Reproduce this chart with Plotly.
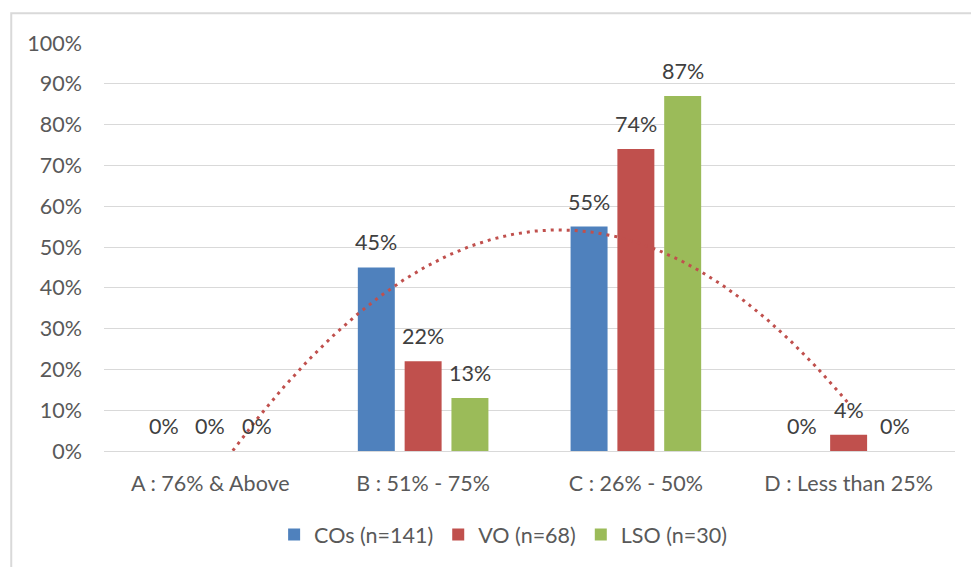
import numpy as np
import plotly.graph_objects as go

# Score bands and share of respondents in each band
categories = ["A : 76% & Above", "B : 51% - 75%", "C : 26% - 50%", "D : Less than 25%"]
series_names = ["COs (n=141)", "VO (n=68)", "LSO (n=30)"]
cos_values = [0.00, 0.45, 0.55, 0.00]
vo_values = [0.00, 0.22, 0.74, 0.04]
lso_values = [0.00, 0.13, 0.87, 0.00]
y_ticks = [0, 0.1, 0.2, 0.3, 0.4, 0.5, 0.6, 0.7, 0.8, 0.9, 1.0]

colors = ["#4F81BD", "#C0504D", "#9BBB59"]
FONT = "Lato, Carlito, 'Liberation Sans', sans-serif"
FS = 21.5
BAR_GAP = 0.34
GROUP_GAP = 0.21

x_pos = np.arange(len(categories))
all_series = [cos_values, vo_values, lso_values]

fig = go.Figure()
for name, vals, col in zip(series_names, all_series, colors):
    fig.add_trace(go.Bar(
        x=x_pos, y=vals, name=name,
        marker=dict(color=col, line=dict(width=0)),
        hoverinfo="x+y",
    ))

# Second-order polynomial trend of the VO series, clipped at the axis floor
coef = np.polyfit(x_pos + 1, vo_values, 2)
xt = np.linspace(0, len(categories) - 1, 400)
yt = np.polyval(coef, xt + 1)
keep = yt >= 0
fig.add_trace(go.Scatter(
    x=xt[keep], y=yt[keep], mode="lines", showlegend=False,
    line=dict(color="#C0504D", width=3, dash="3px,5px"),
    hoverinfo="skip",
))

# Value labels above each bar
slot = (1 - BAR_GAP) / len(all_series)
for k, vals in enumerate(all_series):
    off = (k - (len(all_series) - 1) / 2) * slot
    for i, v in enumerate(vals):
        fig.add_annotation(
            x=x_pos[i] + off, y=v, text=f"{round(v * 100)}%",
            showarrow=False, yanchor="middle", yshift=25,
            font=dict(family=FONT, size=FS, color="#404040"),
        )

# Light outer frame around the chart area
fig.add_shape(type="rect", xref="paper", yref="paper",
              x0=-0.109, x1=1.2, y0=-0.6, y1=1.073,
              line=dict(color="#D9D9D9", width=2), layer="below")

fig.update_layout(
    width=971, height=567,
    margin=dict(l=104, r=16, t=43, b=114),
    paper_bgcolor="white", plot_bgcolor="white",
    barmode="group", bargap=BAR_GAP, bargroupgap=GROUP_GAP,
    font=dict(family=FONT, size=FS, color="#595959"),
    legend=dict(orientation="h", x=0.469, xanchor="center", y=-0.205, yanchor="middle",
                font=dict(family=FONT, size=FS, color="#595959"),
                itemwidth=30, traceorder="normal"),
    xaxis=dict(
        range=[-0.5, len(categories) - 0.5],
        tickvals=list(x_pos), ticktext=categories,
        showgrid=False, zeroline=False, showline=False, ticks="",
        ticklabelstandoff=17,
        tickfont=dict(family=FONT, size=FS, color="#595959"),
        fixedrange=True,
    ),
    yaxis=dict(
        range=[0, 1], tickvals=y_ticks, tickformat=".0%",
        showgrid=True, gridcolor="#D9D9D9", gridwidth=1.3,
        zeroline=True, zerolinecolor="#D9D9D9", zerolinewidth=1.3,
        showline=False, ticks="", ticklabelstandoff=21,
        tickfont=dict(family=FONT, size=FS, color="#595959"),
        fixedrange=True,
    ),
)

fig.write_html("out.html")
